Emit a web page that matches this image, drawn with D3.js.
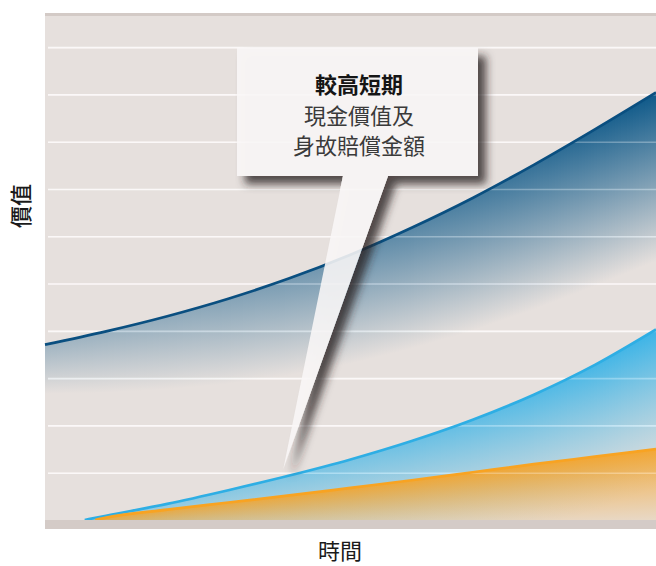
<!DOCTYPE html>
<html><head><meta charset="utf-8">
<script src="https://cdn.jsdelivr.net/npm/d3@7"></script>
<style>html,body{margin:0;padding:0;background:#fff;} svg{display:block;font-family:"Noto Sans CJK TC","Noto Sans CJK SC",sans-serif;}</style>
</head><body><div id="chart"></div>
<script>
// ---- data ----
const tDark = [0, 2, 4, 6, 8, 10, 12, 14, 16, 18, 20];
const valDark = [3.71, 3.99, 4.31, 4.68, 5.11, 5.61, 6.18, 6.81, 7.51, 8.26, 9.04];
const tLight = [1.3, 2, 4, 6, 8, 10, 12, 14, 16, 18, 20];
const valLight = [0, 0.09, 0.34, 0.63, 0.94, 1.28, 1.67, 2.12, 2.65, 3.28, 4.03];
const tOrange = [1.64, 2, 4, 6, 8, 10, 12, 14, 16, 18, 20];
const valOrange = [0, 0.05, 0.22, 0.37, 0.52, 0.68, 0.84, 1.01, 1.18, 1.34, 1.50];
const gridValues = [1, 2, 3, 4, 5, 6, 7, 8, 9, 10];
const xLabel = "時間";
const yLabel = "價值";
const calloutLines = ["較高短期", "現金價值及", "身故賠償金額"];
const calloutTip = [7.8, 1.08];

// ---- layout ----
const W = 656, H = 566;
const pL = 45, pR = 656, pT = 13, pB = 520;
const svg = d3.select("#chart").append("svg").attr("width", W).attr("height", H);
const defs = svg.append("defs");

const x = d3.scaleLinear().domain([0, 20]).range([pL, pR]);
const y = d3.scaleLinear().domain([0, 10.7]).range([pB, 14]);

// background
svg.append("rect").attr("x", pL).attr("y", pT).attr("width", pR - pL).attr("height", pB - pT).attr("fill", "#e6e0dd");
svg.append("rect").attr("x", pL).attr("y", pT).attr("width", pR - pL).attr("height", 3).attr("fill", "#d3cac6");

function grid(opacity) {
  const g = svg.append("g").attr("transform", `translate(48,0)`)
    .call(d3.axisRight(y).tickValues(gridValues).tickSize(pR - 48).tickFormat(""));
  g.select(".domain").remove();
  g.selectAll("line").attr("stroke", "#fbf9f8").attr("stroke-width", 1.6).attr("opacity", opacity);
  return g;
}
grid(1);

const series = [
  {id: "dark", t: tDark, v: valDark, color: "#0b5788", stroke: "#0a4f80",
   h0: 0.33, h1: 1.0, hPow: 1.4, D0: 50, D1: 170, gPow: 1.0},
  {id: "light", t: tLight, v: valLight, color: "#38b3e7", stroke: "#2eaee4",
   h0: 0.5, h1: 1.0, hPow: 1.5, D0: 40, D1: 160, gPow: 1.3},
  {id: "orange", t: tOrange, v: valOrange, color: "#f6a42a", stroke: "#f8a322",
   h0: 0.9, h1: 0.97, hPow: 1, D0: 25, D1: 88, gPow: 1.2}
];

series.forEach(s => {
  const data = s.t.map((t, i) => ({t, v: s.v[i]}));
  const grad = defs.append("linearGradient").attr("id", "g-" + s.id)
    .attr("x1", 0).attr("y1", 0).attr("x2", 0).attr("y2", 1);
  d3.range(0, 1.0001, 0.1).forEach(f => {
    const o = Math.pow(1 - f, s.gPow);
    grad.append("stop").attr("offset", f).attr("stop-color", s.color).attr("stop-opacity", Math.max(0, o));
  });
  const area = d3.area().x(d => x(d.t)).y0(pB).y1(d => y(d.v)).curve(d3.curveMonotoneX);
  defs.append("clipPath").attr("id", "c-" + s.id).append("path").attr("d", area(data));
  const interp = d3.scaleLinear().domain(s.t.map(x)).range(s.v.map(y)).clamp(true);
  const x0 = Math.floor(x(s.t[0]));
  const step = 3;
  const cols = d3.range(x0, pR, step);
  svg.append("g").attr("clip-path", `url(#c-${s.id})`)
    .selectAll("rect").data(cols).join("rect")
    .attr("x", px => px).attr("width", step)
    .attr("y", px => Math.min(interp(px), interp(px + step)) - 1)
    .attr("height", px => {
      const fr = (px - x0) / (pR - x0);
      return s.D0 + (s.D1 - s.D0) * fr + 1;
    })
    .attr("fill", `url(#g-${s.id})`)
    .attr("fill-opacity", px => {
      const fr = Math.max(0, (px - x0) / (pR - x0));
      return s.h0 + (s.h1 - s.h0) * Math.pow(fr, s.hPow);
    })
    .attr("shape-rendering", "crispEdges");
  s.data = data;
});

grid(0.28);

series.forEach(s => {
  const line = d3.line().x(d => x(d.t)).y(d => y(d.v)).curve(d3.curveMonotoneX);
  svg.append("path").attr("d", line(s.data)).attr("fill", "none")
    .attr("stroke", s.stroke).attr("stroke-width", 2.7).attr("stroke-linecap", "butt");
});

// bottom band
svg.append("rect").attr("x", pL).attr("y", pB).attr("width", pR - pL).attr("height", 9).attr("fill", "#d4cbc7");

// callout
const f = defs.append("filter").attr("id", "shadow").attr("x", "-20%").attr("y", "-20%").attr("width", "150%").attr("height", "150%");
f.append("feGaussianBlur").attr("in", "SourceAlpha").attr("stdDeviation", 4).attr("result", "b");
f.append("feOffset").attr("in", "b").attr("dx", 8).attr("dy", 8).attr("result", "o");
f.append("feFlood").attr("flood-color", "#2a2222").attr("flood-opacity", 0.9).attr("result", "fl");
f.append("feComposite").attr("in", "fl").attr("in2", "o").attr("operator", "in").attr("result", "s");
f.append("feComposite").attr("in", "s").attr("in2", "SourceAlpha").attr("operator", "out").attr("result", "s2");
const fm = f.append("feMerge");
fm.append("feMergeNode").attr("in", "s2");
fm.append("feMergeNode").attr("in", "SourceGraphic");

const bx0 = 237, bx1 = 478, by0 = 48, by1 = 176;
const tipX = x(calloutTip[0]), tipY = y(calloutTip[1]);
const p = d3.path();
p.moveTo(bx0, by0); p.lineTo(bx1, by0); p.lineTo(bx1, by1); p.lineTo(388, by1);
p.lineTo(tipX, tipY); p.lineTo(343, by1); p.lineTo(bx0, by1); p.closePath();
svg.append("path").attr("d", p.toString()).attr("fill", "#f9f7f7").attr("fill-opacity", 0.88).attr("filter", "url(#shadow)");

const txt = svg.append("g").attr("text-anchor", "middle");
calloutLines.forEach((l, i) => {
  txt.append("text").attr("x", 359).attr("y", 93 + i * 30.5)
    .attr("font-size", 22).attr("font-weight", i === 0 ? 700 : 400)
    .attr("fill", i === 0 ? "#151515" : "#3a3a3a").text(l);
});

// axis titles
svg.append("text").attr("x", 340).attr("y", 559).attr("text-anchor", "middle")
  .attr("font-size", 22).attr("fill", "#1a1a1a").text(xLabel);
svg.append("text").attr("transform", "translate(29,206) rotate(-90)").attr("text-anchor", "middle")
  .attr("font-size", 22).attr("font-weight", 500).attr("fill", "#1a1a1a").text(yLabel);
</script>
</body></html>
